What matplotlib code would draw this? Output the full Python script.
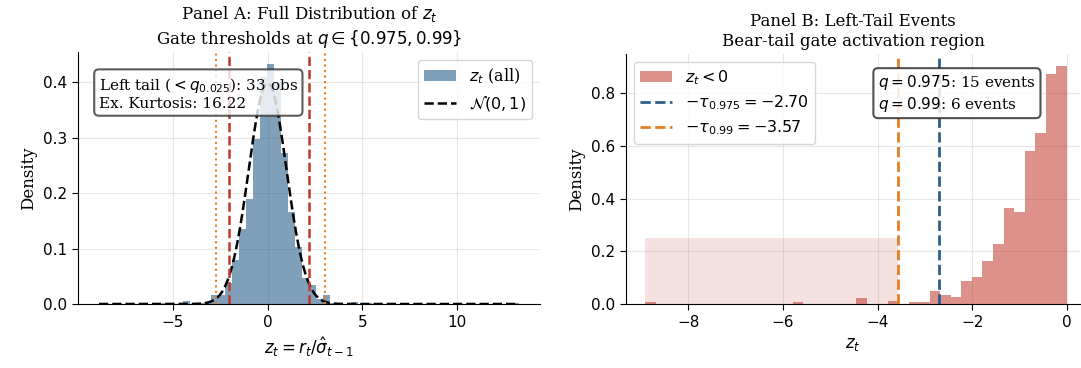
import numpy as np
import matplotlib
matplotlib.use('Agg')
import matplotlib.pyplot as plt

plt.rcParams['font.family'] = 'DejaVu Serif'
plt.rcParams['mathtext.fontset'] = 'dejavusans'

# Panel A: density of all z_t, 60 equal bins between min and max
zA_min, zA_max = -8.91, 13.28
densA = [0.002, 0, 0, 0, 0, 0, 0, 0, 0, 0.002,
         0, 0, 0.006, 0, 0.002, 0.003, 0.017, 0.017, 0.037, 0.079,
         0.135, 0.190, 0.297, 0.410, 0.433, 0.400, 0.272, 0.166, 0.103, 0.047,
         0.035, 0.009, 0.016, 0.002, 0, 0, 0.004, 0, 0.002, 0,
         0, 0, 0, 0, 0, 0, 0, 0, 0, 0,
         0, 0, 0, 0, 0, 0, 0, 0, 0, 0.002]
q_lo, q_hi = -2.03, 2.21          # red dashed
q_lo2, q_hi2 = -2.72, 3.03        # orange dotted
n_left_tail = 33
ex_kurt = 16.22

# Panel B: density of z_t < 0, 40 equal bins between min and 0
zB_min = -8.91
densB = [0.0057, 0, 0, 0, 0, 0, 0, 0, 0, 0,
         0, 0, 0, 0, 0.0057, 0, 0, 0, 0, 0,
         0.023, 0, 0, 0.013, 0, 0.006, 0.006, 0.051, 0.036, 0.028,
         0.089, 0.104, 0.165, 0.226, 0.363, 0.349, 0.582, 0.650, 0.874, 0.904]
tau975, tau99 = 2.70, 3.57
events975, events99 = 15, 6
shade_h = 0.25

blue = '#2c5f8a'
red = '#c0392b'
orange = '#e67e22'

fig = plt.figure(figsize=(10.81, 3.68), dpi=100)
axA = fig.add_axes([78 / 1081, 1 - 304 / 368, 462 / 1081, 252 / 368])
axB = fig.add_axes([626 / 1081, 1 - 304 / 368, 454 / 1081, 250 / 368])

# ---- Panel A
edgesA = np.linspace(zA_min, zA_max, len(densA) + 1)
axA.hist(edgesA[:-1], bins=edgesA, weights=densA, color=blue, alpha=0.6,
         label=r'$z_t$ (all)')
xs = np.linspace(zA_min, zA_max, 500)
axA.plot(xs, np.exp(-xs ** 2 / 2) / np.sqrt(2 * np.pi), 'k--', lw=1.8,
         label=r'$\mathcal{N}(0,1)$')
for v in (q_lo, q_hi):
    axA.axvline(v, color=red, ls='--', lw=1.8)
for v in (q_lo2, q_hi2):
    axA.axvline(v, color=orange, ls=':', lw=1.5)
axA.text(0.045, 0.905,
         'Left tail ($<q_{0.025}$): %d obs\nEx. Kurtosis: %.2f' % (n_left_tail, ex_kurt),
         transform=axA.transAxes, va='top', ha='left', fontsize=11,
         bbox=dict(boxstyle='round,pad=0.3', facecolor='white', edgecolor='#333333',
                   alpha=0.8, linewidth=1.5))
axA.legend(loc='upper right', fontsize=11.5)
axA.set_title('Panel A: Full Distribution of $z_t$\nGate thresholds at $q \\in \\{0.975, 0.99\\}$',
              fontsize=12)
axA.set_xlabel(r'$z_t = r_t / \hat{\sigma}_{t-1}$', fontsize=12)
axA.set_ylabel('Density', fontsize=12)
axA.set_xticks([-5, 0, 5, 10])
axA.set_yticks([0.0, 0.1, 0.2, 0.3, 0.4])

# ---- Panel B
edgesB = np.linspace(zB_min, 0, len(densB) + 1)
axB.fill_between([zB_min, -tau99], 0, shade_h, color=red, alpha=0.15, lw=0)
axB.hist(edgesB[:-1], bins=edgesB, weights=densB, color=red, alpha=0.55,
         label=r'$z_t < 0$')
axB.axvline(-tau975, color=blue, ls='--', lw=2,
            label=r'$-\tau_{0.975} = -%.2f$' % tau975)
axB.axvline(-tau99, color=orange, ls='--', lw=2,
            label=r'$-\tau_{0.99} = -%.2f$' % tau99)
axB.text(0.555, 0.925,
         '$q = 0.975$: %d events\n$q = 0.99$: %d events' % (events975, events99),
         transform=axB.transAxes, va='top', ha='left', fontsize=11,
         bbox=dict(boxstyle='round,pad=0.3', facecolor='white', edgecolor='#333333',
                   alpha=0.85, linewidth=1.5))
axB.legend(loc='upper left', fontsize=11.5, labelspacing=0.4)
axB.set_title('Panel B: Left-Tail Events\nBear-tail gate activation region', fontsize=12)
axB.set_xlabel(r'$z_t$', fontsize=12)
axB.set_ylabel('Density', fontsize=12)
axB.set_xlim(-9.32, 0.28)
axB.set_xticks([-8, -6, -4, -2, 0])
axB.set_yticks([0.0, 0.2, 0.4, 0.6, 0.8])

for ax in (axA, axB):
    ax.grid(alpha=0.3)
    ax.set_axisbelow(True)
    ax.spines['top'].set_visible(False)
    ax.spines['right'].set_visible(False)
    ax.tick_params(labelsize=11, length=4.5)
    for lbl in ax.get_xticklabels() + ax.get_yticklabels():
        lbl.set_fontfamily('DejaVu Sans')

fig.savefig('out.png', dpi=100)
